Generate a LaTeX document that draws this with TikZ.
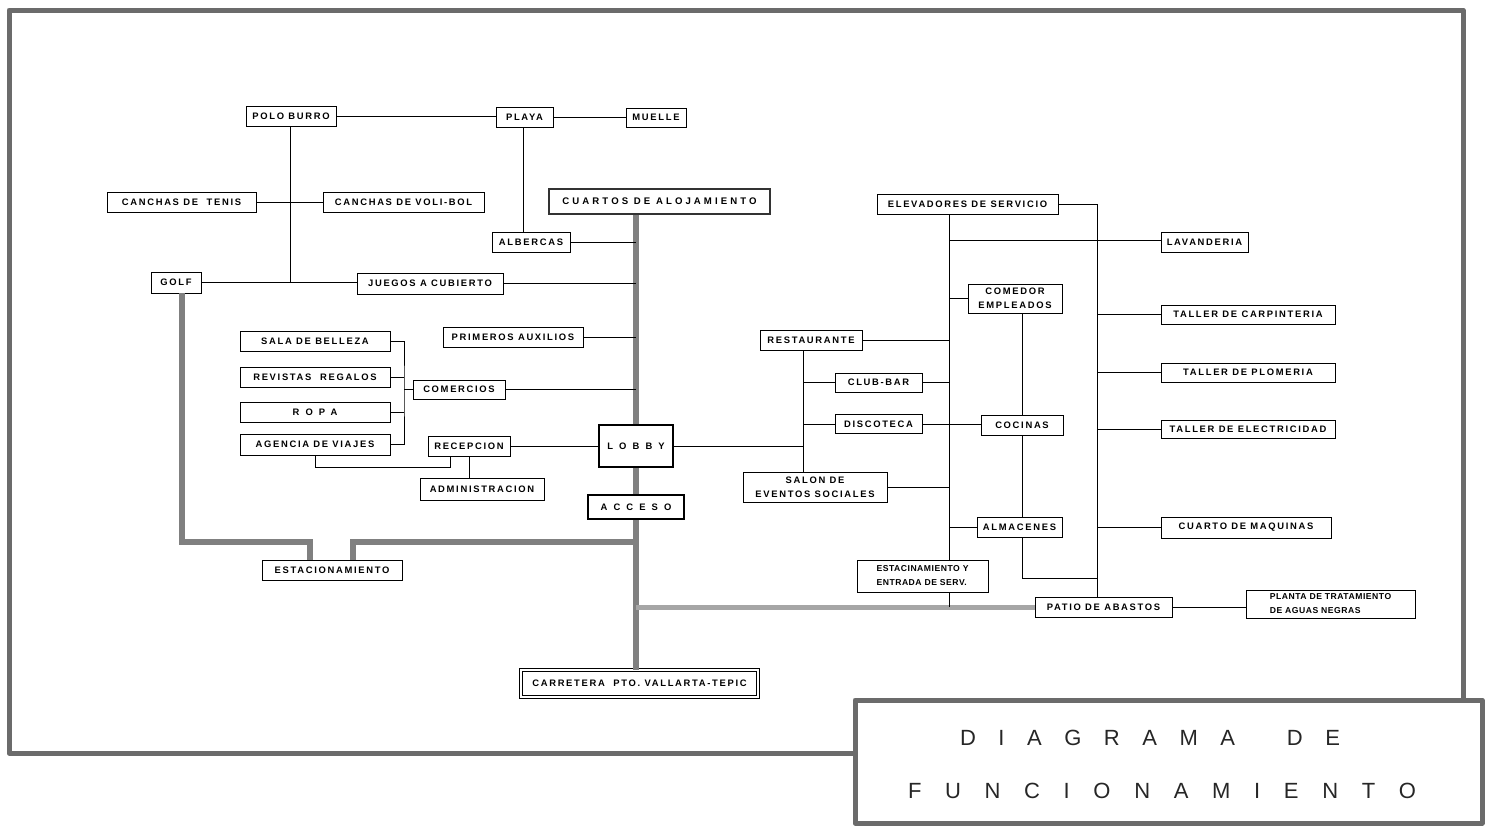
\documentclass[tikz,border=0pt]{standalone}
\usepackage{fontspec}
\setmainfont{Liberation Sans}
\newfontfamily\lblfont[LetterSpace=18]{Liberation Sans}
\newfontfamily\ttlfont{Liberation Sans}
\begin{document}
\begin{tikzpicture}[x=1pt,y=-1pt,
  wh/.style 2 args={minimum width=#1pt,minimum height=#2pt},
  box/.style={draw,line width=0.9pt,inner sep=0pt,align=center,
    font=\lblfont\bfseries\fontsize{9.4}{14}\selectfont},
  bigbox/.style={box,line width=2.6pt},
  dblbox/.style={box,double,line width=0.8pt,double distance=1.6pt},
  wide/.style={font=\lblfont\bfseries\fontsize{9.4}{14}\selectfont\addfontfeature{LetterSpace=65}},
  wider/.style={font=\lblfont\bfseries\fontsize{9.6}{14}\selectfont\addfontfeature{LetterSpace=32}},
  narrow/.style={font=\lblfont\bfseries\fontsize{8.6}{14}\selectfont\addfontfeature{LetterSpace=6}},
  ln/.style={line width=0.9pt},
  road/.style={line width=6pt,draw=black!50},
  lroad/.style={line width=5pt,draw=black!35},
  frm/.style={line width=5pt,draw=black!58,line join=round,line cap=round},
  ttl/.style={inner sep=0pt,font=\ttlfont\fontsize{22}{26}\selectfont,text=black!85}]
\useasboundingbox (0,0) rectangle (1485,827);
% frame
\draw[frm] (855,753) -- (9,753) -- (9,10) -- (1463,10) -- (1463,700);
\draw[frm] (855,700) rectangle (1482,823);
\node[ttl] (t1) at (1150,738) {\makebox[380pt][s]{D\hfil I\hfil A\hfil G\hfil R\hfil A\hfil M\hfil A\hskip 0pt plus 2.3fil D\hfil E}};
\node[ttl] (t2) at (1162,791) {\makebox[508pt][s]{F\hfil U\hfil N\hfil C\hfil I\hfil O\hfil N\hfil A\hfil M\hfil I\hfil E\hfil N\hfil T\hfil O}};
% nodes
\node[box,wh={90}{20}] (polo) at (291,116) {POLO BURRO};
\node[box,wh={57}{20}] (playa) at (524.5,117) {PLAYA};
\node[box,wh={60}{19}] (muelle) at (656,117.5) {MUELLE};
\node[box,wh={149}{20}] (tenis) at (181.5,202) {CANCHAS DE\ \ TENIS};
\node[box,wh={161}{20}] (voli) at (403.5,202) {CANCHAS DE VOLI-BOL};
\node[bigbox,wider,wh={221}{25},draw=black!80] (cuartos) at (659.5,201.5) {CUARTOS\ DE\ ALOJAMIENTO};
\node[box,wh={181}{20}] (elev) at (967.5,204) {ELEVADORES DE SERVICIO};
\node[box,wh={78}{20}] (alb) at (531,242) {ALBERCAS};
\node[box,wh={87}{20}] (lav) at (1204.5,242) {LAVANDERIA};
\node[box,wh={50}{21}] (golf) at (176,282.5) {GOLF};
\node[box,wh={146}{21}] (juegos) at (430,283.5) {JUEGOS A CUBIERTO};
\node[box,wh={94}{29}] (comedor) at (1015,298.5) {COMEDOR\\EMPLEADOS};
\node[box,wh={174}{19}] (carp) at (1248,314.5) {TALLER DE CARPINTERIA};
\node[box,wh={140}{20}] (prim) at (513,337) {PRIMEROS AUXILIOS};
\node[box,wh={150}{20}] (sala) at (315,341) {SALA DE BELLEZA};
\node[box,wh={102}{20}] (rest) at (811,340) {RESTAURANTE};
\node[box,wh={150}{20}] (rev) at (315,377) {REVISTAS\ \ REGALOS};
\node[box,wh={174}{19}] (plom) at (1248,372.5) {TALLER DE PLOMERIA};
\node[box,wh={87}{19}] (club) at (878.5,382.5) {CLUB-BAR};
\node[box,wh={92}{19}] (com) at (459,389.5) {COMERCIOS};
\node[box,wide,wh={150}{20}] (ropa) at (315,412) {ROPA};
\node[box,wh={87}{19}] (disco) at (878.5,424) {DISCOTECA};
\node[box,wh={82}{20}] (coc) at (1022,425) {COCINAS};
\node[box,wh={174}{18}] (elec) at (1248,429) {TALLER DE ELECTRICIDAD};
\node[box,wh={150}{21}] (ag) at (315,444.5) {AGENCIA DE VIAJES};
\node[box,wh={82}{20}] (rec) at (469,446) {RECEPCION};
\node[bigbox,wide,wh={74}{42}] (lobby) at (636,446) {LOBBY};
\node[box,wh={144}{30}] (salon) at (815,487) {SALON DE\\EVENTOS SOCIALES};
\node[box,wh={124}{22}] (adm) at (482,489) {ADMINISTRACION};
\node[bigbox,wide,wh={96}{24}] (acc) at (636,507) {ACCESO};
\node[box,wh={85}{20}] (alm) at (1019.5,527) {ALMACENES};
\node[box,wh={170}{21}] (maq) at (1246,527.5) {CUARTO DE MAQUINAS};
\node[box,wh={140}{20}] (estac) at (332,570) {ESTACIONAMIENTO};
\node[box,narrow,wh={131}{32},align=left] (eserv) at (922.5,576) {ESTACINAMIENTO Y\\ENTRADA DE SERV.};
\node[box,wh={137}{20}] (patio) at (1103.5,607) {PATIO DE ABASTOS};
\node[box,narrow,wh={169}{28},align=left] (planta) at (1330.5,604) {PLANTA DE TRATAMIENTO\\DE AGUAS NEGRAS};
\node[dblbox,wh={237}{27}] (carr) at (639.5,683.5) {CARRETERA\ \ PTO. VALLARTA-TEPIC};
% helper coordinates
\coordinate (bk) at (404,389.5);
\coordinate (rb) at (803,446);
\coordinate (sb) at (949,214);
\coordinate (rbt) at (1097,204);
% thick roads
\draw[road] (cuartos.south -| lobby.north) -- (lobby.north);
\draw[road] (lobby.south) -- (acc.north);
\draw[road] (acc.south) -- (acc.south |- carr.north);
\draw[road] ([xshift=6pt]golf.south) |- ([xshift=-22pt]estac.north |- 0,542) -- ([xshift=-22pt]estac.north);
\draw[road] ([xshift=21pt]estac.north) |- (acc.south |- 0,542);
\draw[lroad] (acc.south |- patio.west) -- (patio.west);
% thin connectors
\draw[ln] (polo.east) -- (polo.east -| playa.west);
\draw[ln] (playa.east) -- (playa.east -| muelle.west);
\draw[ln] ([xshift=-1.5pt]playa.south) -- ([xshift=-1.5pt]playa.south |- alb.north);
\draw[ln] ([xshift=-1pt]polo.south) -- ([xshift=-1pt]polo.south |- golf.east);
\draw[ln] (tenis) -- (voli);
\draw[ln] (golf.east) -- (golf.east -| juegos.west);
\draw[ln] (juegos.east) -- (juegos.east -| lobby.north);
\draw[ln] (alb.east) -- (alb.east -| lobby.north);
\draw[ln] (prim.east) -- (prim.east -| lobby.north);
\draw[ln] (com.east) -- (com.east -| lobby.north);
\draw[ln] (sala.east) -| (bk) |- (ag.east);
\draw[ln] (rev.east) -- (rev.east -| bk);
\draw[ln] (ropa.east) -- (ropa.east -| bk);
\draw[ln] (bk) -- (com.west);
\draw[ln] (rec.east) -- (rec.east -| lobby.west);
\draw[ln] (ag.south) -- ++(0,12) -| ([xshift=-19pt]rec.south);
\draw[ln] (rec.south) -- (rec.south |- adm.north);
\draw[ln] (lobby.east) -- (rb);
\draw[ln] (rest.south -| rb) -- (rb |- salon.north);
\draw[ln] (club.west) -- (club.west -| rb);
\draw[ln] (disco.west) -- (disco.west -| rb);
\draw[ln] (sb) -- (sb |- eserv.north);
\draw[ln] (eserv.south -| sb) -- (sb |- patio.west);
\draw[ln] (rest.east) -- (rest.east -| sb);
\draw[ln] (club.east) -- (club.east -| sb);
\draw[ln] (salon.east) -- (salon.east -| sb);
\draw[ln] (disco.east) -- (disco.east -| coc.west);
\draw[ln] (sb |- 0,240) -- (lav.west |- 0,240);
\draw[ln] (comedor.west -| sb) -- (comedor.west);
\draw[ln] (alm.west -| sb) -- (alm.west);
\draw[ln] (elev.east) -- (rbt) -- (rbt |- patio.north);
\draw[ln] (carp.west -| rbt) -- (carp.west);
\draw[ln] (plom.west -| rbt) -- (plom.west);
\draw[ln] (elec.west -| rbt) -- (elec.west);
\draw[ln] (maq.west -| rbt) -- (maq.west);
\draw[ln] (coc.north) -- (coc.north |- comedor.south);
\draw[ln] (coc.south) -- (coc.south |- alm.north);
\draw[ln] (coc.south |- alm.south) -- (coc.south |- 0,578) -- (rbt |- 0,578);
\draw[ln] (patio.east) -- (planta.west |- patio.east);
\end{tikzpicture}
\end{document}
